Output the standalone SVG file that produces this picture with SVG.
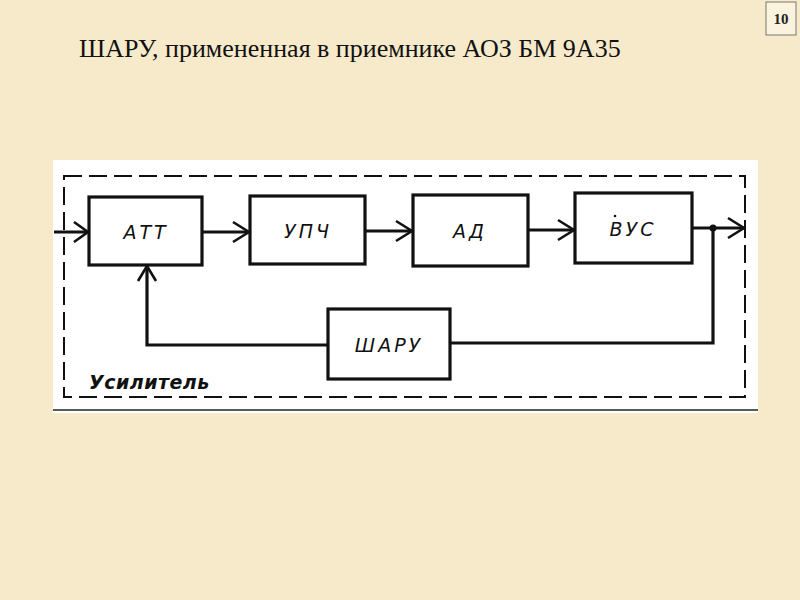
<svg xmlns="http://www.w3.org/2000/svg" width="800" height="600" viewBox="0 0 800 600">
<style>
.box{fill:none;stroke:#111;stroke-width:3.2}
.ln{fill:none;stroke:#111;stroke-width:3.2}
.ah{fill:none;stroke:#111;stroke-width:2.6}
.lbl{font-family:"DejaVu Sans",sans-serif;font-style:italic;font-size:19px;fill:#111;text-anchor:middle;letter-spacing:3px}
</style>
<rect width="800" height="600" fill="#F6EACB"/>
<g id="page-number"><rect x="766" y="2" width="30" height="33" fill="#FBF3DE" stroke="#777" stroke-width="1"/><text x="781" y="24" font-family="Liberation Serif,serif" font-size="15" font-weight="bold" text-anchor="middle" fill="#222">10</text></g>
<text id="title" x="79" y="57" font-family="Liberation Serif,serif" font-size="26" fill="#111">ШАРУ, примененная в приемнике АОЗ БМ 9А35</text>
<rect x="53" y="160" width="705" height="253" fill="#FFFFFF"/>
<line x1="53" y1="410" x2="758" y2="410" stroke="#222" stroke-width="1.5"/>
<g id="amplifier"><rect x="64" y="176" width="681" height="221" fill="none" stroke="#111" stroke-width="2" stroke-dasharray="18,7"/>
<text x="89" y="389" font-family="DejaVu Sans,sans-serif" font-style="italic" font-weight="bold" font-size="19" fill="#111" letter-spacing="0.5">Усилитель</text></g>
<g id="ATT"><rect class="box" x="89" y="197" width="113" height="68"/><text class="lbl" x="146" y="239">АТТ</text></g>
<g id="UPCH"><rect class="box" x="250" y="196" width="115" height="68"/><text class="lbl" x="308" y="238">УПЧ</text></g>
<g id="AD"><rect class="box" x="413" y="195" width="115" height="71"/><text class="lbl" x="470" y="238">АД</text></g>
<g id="VUS"><rect class="box" x="575" y="193" width="117" height="70"/><text class="lbl" x="633" y="236">ВУС</text><circle cx="615" cy="216" r="1.3" fill="#111"/></g>
<g id="SHARU"><rect class="box" x="328" y="309" width="122" height="70"/><text class="lbl" x="389" y="352">ШАРУ</text></g>
<g id="connectors">
<line class="ln" x1="54" y1="232" x2="88" y2="232"/><polyline class="ah" points="74,222 88,232 74,242"/>
<line class="ln" x1="202" y1="232" x2="249" y2="232"/><polyline class="ah" points="233,222 249,232 233,242"/>
<line class="ln" x1="365" y1="231" x2="412" y2="231"/><polyline class="ah" points="396,221 412,231 396,241"/>
<line class="ln" x1="528" y1="230" x2="574" y2="230"/><polyline class="ah" points="558,220 574,230 558,240"/>
<line class="ln" x1="692" y1="228" x2="744" y2="228"/><polyline class="ah" points="728,218 744,228 728,238"/>
<circle cx="713" cy="228" r="3.5" fill="#111"/>
<polyline class="ln" points="713,228 713,343 450,343"/>
<polyline class="ln" points="328,345 147,345 147,266"/>
<polyline class="ah" points="138,281 147,266 156,281"/>
</g>
</svg>
